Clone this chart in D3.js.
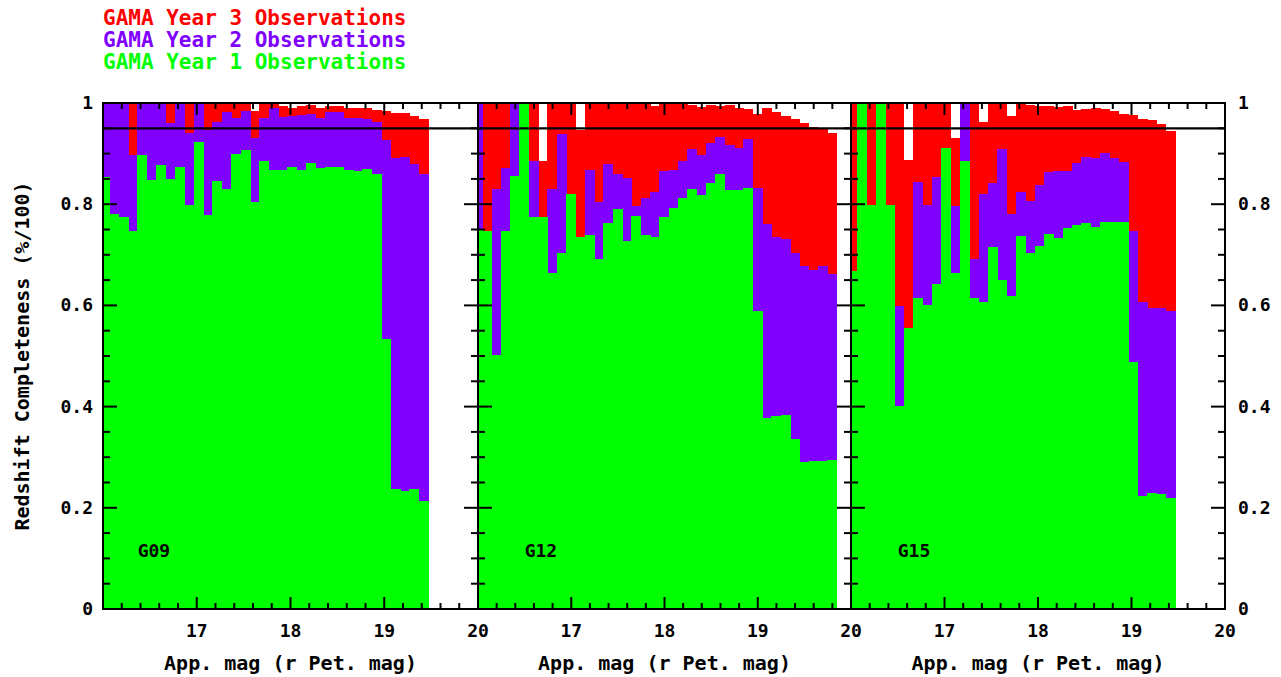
<!DOCTYPE html>
<html><head><meta charset="utf-8">
<script src="https://cdn.jsdelivr.net/npm/d3@7"></script>
<style>body{margin:0;background:#fff}text{font-family:"DejaVu Sans Mono",monospace;font-weight:bold}rect.bar{shape-rendering:crispEdges}</style>
</head><body><svg id="c" width="1281" height="677"></svg>
<script>
const panelNames=["G09","G12","G15"];
const panelLabelMag=[16.37,16.5,16.5];
const firstEdges=[16.067,16.045,16.065];
const binWidth=0.1;
const green1=[0.854,0.781,0.775,0.748,0.897,0.847,0.877,0.85,0.873,0.798,0.923,0.778,0.845,0.83,0.9,0.908,0.804,0.885,0.868,0.868,0.874,0.868,0.881,0.871,0.873,0.874,0.868,0.866,0.869,0.86,0.533,0.238,0.234,0.238,0.213];
const purple1=[1,1,1,0.897,1,1,1,0.961,1,0.941,1,0.947,0.963,0.983,0.97,0.985,0.93,0.97,0.99,0.972,0.975,0.977,0.978,0.971,0.983,0.982,0.971,0.97,0.969,0.962,0.927,0.891,0.893,0.879,0.859];
const red1=[1,1,1,1,1,1,1,1,1,1,1,1,1,1,1,1,0.985,1,1,0.995,0.991,0.994,0.996,0.991,0.994,0.995,0.991,0.991,0.991,0.986,0.984,0.981,0.981,0.975,0.968];
const green2=[0.75,0.747,0.502,0.747,0.856,1.0,0.775,0.775,0.665,0.704,0.82,0.735,0.74,0.692,0.763,0.79,0.728,0.776,0.739,0.735,0.774,0.792,0.812,0.83,0.818,0.841,0.86,0.829,0.829,0.833,0.589,0.378,0.382,0.383,0.336,0.291,0.293,0.292,0.294];
const purple2=[1,0.747,0.83,0.872,1.0,1.0,0.886,0.775,0.83,0.938,0.82,0.735,0.868,0.805,0.879,0.859,0.851,0.796,0.812,0.825,0.866,0.868,0.885,0.909,0.897,0.92,0.933,0.917,0.912,0.928,0.833,0.76,0.736,0.731,0.704,0.677,0.67,0.677,0.662];
const red2=[1,1,1,1,1,1,1,0.886,1,1,1,0.947,1,1,1,1,1,1,1,0.995,1.0,0.998,0.998,0.997,0.993,0.997,0.994,0.997,0.991,0.989,0.978,0.99,0.983,0.974,0.968,0.961,0.953,0.948,0.94];
const green3=[0.667,1.0,0.798,1.0,0.798,0.401,0.555,0.614,0.6,0.642,0.912,0.665,0.885,0.614,0.607,0.716,0.65,0.619,0.737,0.703,0.718,0.741,0.734,0.752,0.759,0.762,0.754,0.765,0.765,0.765,0.489,0.223,0.229,0.228,0.219];
const purple3=[0.667,1.0,0.798,1.0,0.798,0.599,0.555,0.843,0.798,0.854,0.912,0.796,1.0,0.692,0.82,0.841,0.91,0.781,0.825,0.807,0.837,0.863,0.866,0.866,0.881,0.893,0.892,0.902,0.891,0.884,0.747,0.607,0.595,0.594,0.589];
const red3=[1,1,1,1,1,1,0.887,1,1,1,1,0.93,1,1,0.962,1,1,0.974,1,0.997,0.995,0.995,0.992,0.994,0.986,0.988,0.99,0.988,0.984,0.978,0.977,0.968,0.966,0.958,0.945];
const xTicks=[17,18,19,20];
const yTicks=[0,0.2,0.4,0.6,0.8,1];
const legend=[["GAMA Year 3 Observations","#ff0000"],["GAMA Year 2 Observations","#8000ff"],["GAMA Year 1 Observations","#00ff00"]];
const refLine=0.95;

const series=[[green1,purple1,red1],[green2,purple2,red2],[green3,purple3,red3]];
const panelX=[[103,478],[478,851],[851,1225]];
const yTop=103,yBot=609;
const svg=d3.select("#c");
const y=d3.scaleLinear().domain([0,1]).range([yBot,yTop]);
const cols={g:"#00ff00",p:"#8000ff",r:"#ff0000"};

series.forEach(([g,p,r],pi)=>{
  const x=d3.scaleLinear().domain([16,20]).range(panelX[pi]);
  const e=firstEdges[pi];
  const x0=i=>i===0?16:e+binWidth*(i-1), x1=i=>e+binWidth*i;
  const G=svg.append("g");
  [[r,cols.r],[p,cols.p],[g,cols.g]].forEach(([arr,c])=>{
    G.selectAll(null).data(arr).join("rect").attr("class","bar")
      .attr("x",(d,i)=>x(x0(i))).attr("width",(d,i)=>x(x1(i))-x(x0(i))+0.6)
      .attr("y",d=>y(d)).attr("height",d=>yBot-y(d)).attr("fill",c);
  });
  G.append("line").attr("x1",x(16)).attr("x2",x(20)).attr("y1",y(refLine)).attr("y2",y(refLine)).attr("stroke","#000").attr("stroke-width",2.2);
  d3.range(16.2,20,0.2).forEach(m=>{
    const isMaj=Math.abs(m-Math.round(m))<1e-6;
    const L=isMaj?12:6;
    G.append("line").attr("x1",x(m)).attr("x2",x(m)).attr("y1",yBot).attr("y2",yBot-L).attr("stroke","#000").attr("stroke-width",2);
    G.append("line").attr("x1",x(m)).attr("x2",x(m)).attr("y1",yTop).attr("y2",yTop+L).attr("stroke","#000").attr("stroke-width",2);
  });
  xTicks.forEach(t=>G.append("text").attr("x",x(t)).attr("y",637).attr("text-anchor","middle").attr("font-size",18).text(t));
  d3.range(0.05,1,0.05).forEach(v=>{
    const isMaj=Math.abs(v*5-Math.round(v*5))<1e-6;
    const L=isMaj?14:7;
    G.append("line").attr("x1",x(16)).attr("x2",x(16)+L).attr("y1",y(v)).attr("y2",y(v)).attr("stroke","#000").attr("stroke-width",2);
    G.append("line").attr("x1",x(20)).attr("x2",x(20)-L).attr("y1",y(v)).attr("y2",y(v)).attr("stroke","#000").attr("stroke-width",2);
  });
  G.append("rect").attr("x",x(16)).attr("y",yTop).attr("width",x(20)-x(16)).attr("height",yBot-yTop).attr("fill","none").attr("stroke","#000").attr("stroke-width",2);
  G.append("text").attr("x",x(panelLabelMag[pi])).attr("y",557).attr("font-size",18).text(panelNames[pi]);
  G.append("text").attr("x",(x(16)+x(20))/2).attr("y",670).attr("text-anchor","middle").attr("font-size",20).text("App. mag (r Pet. mag)");
});
yTicks.forEach(t=>{
  svg.append("text").attr("x",93).attr("y",y(t)+6).attr("text-anchor","end").attr("font-size",18).text(t);
  svg.append("text").attr("x",1238).attr("y",y(t)+6).attr("text-anchor","start").attr("font-size",18).text(t);
});
svg.append("text").attr("transform","translate(29,356) rotate(-90)").attr("text-anchor","middle").attr("font-size",20).text("Redshift Completeness (%/100)");
legend.forEach(([t,c],i)=>svg.append("text").attr("x",103).attr("y",25+i*22).attr("fill",c).attr("font-size",21).text(t));
</script></body></html>
